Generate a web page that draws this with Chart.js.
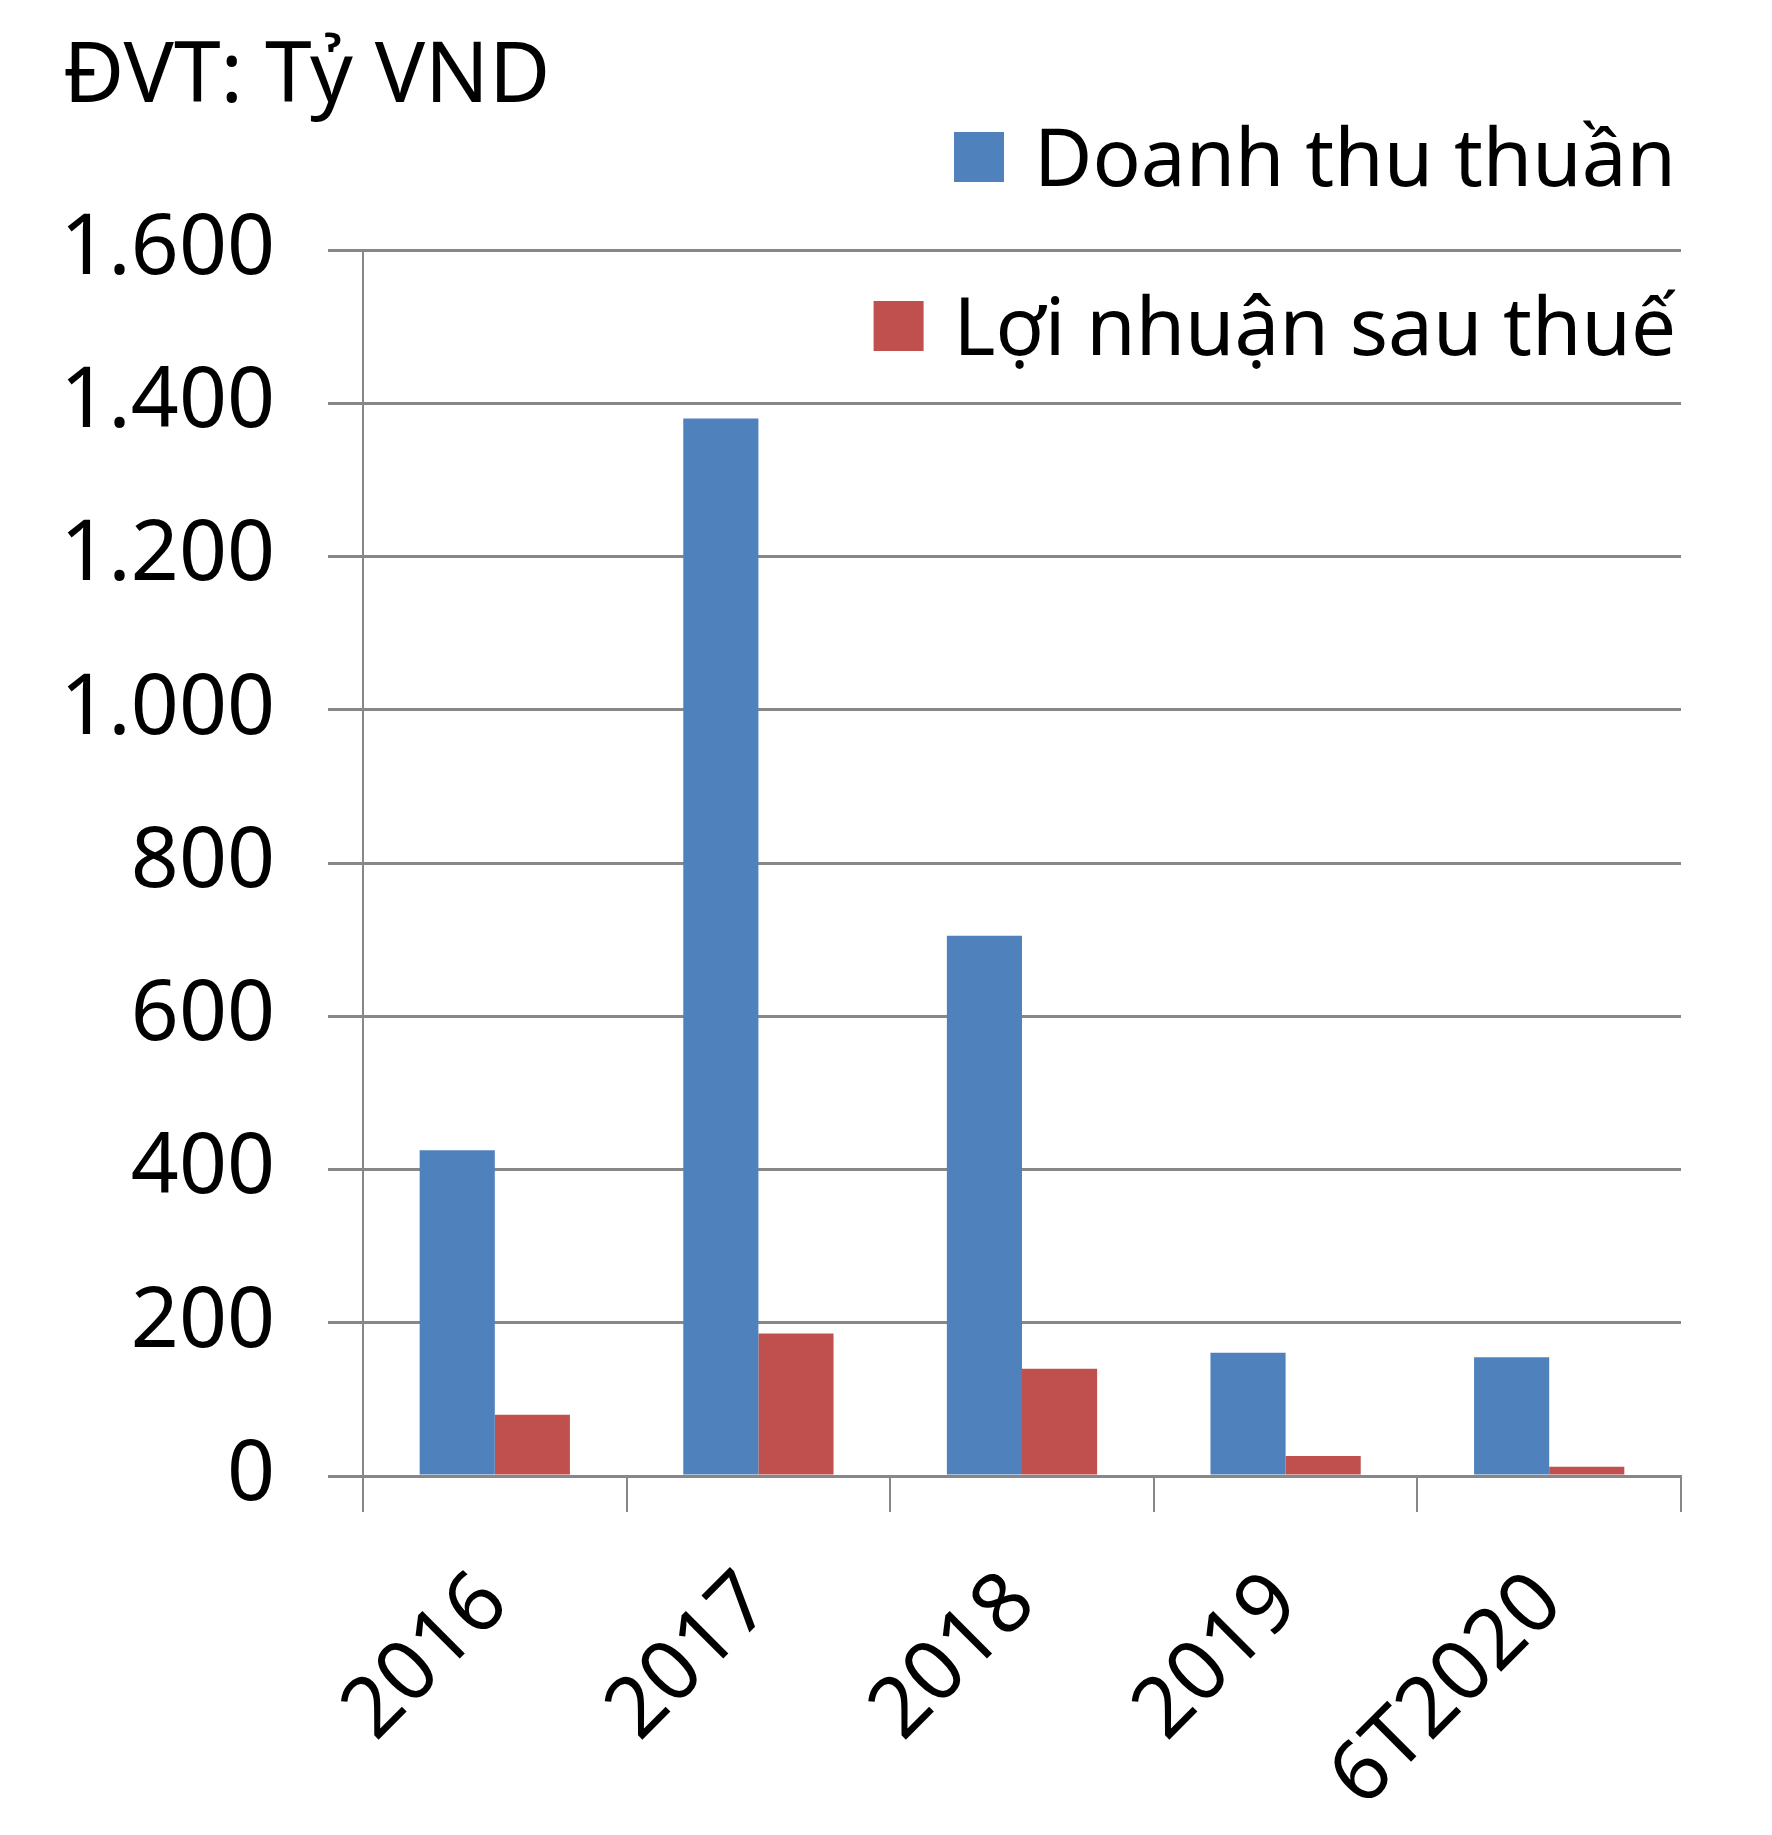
<!DOCTYPE html>
<html lang="vi">
<head>
<meta charset="utf-8">
<title>Doanh thu thuần và Lợi nhuận sau thuế</title>
<script src="https://cdn.jsdelivr.net/npm/chart.js@4.4.1/dist/chart.umd.min.js"></script>
<style>
  html, body { margin: 0; padding: 0; background: #ffffff; }
  canvas { display: block; }
</style>
</head>
<body>
<canvas id="graficoDoanhThu" width="1772" height="1835"></canvas>
<script>
// dati (tỷ VND)
const categories = ["2016", "2017", "2018", "2019", "6T2020"];
const doanhThuThuan = [425, 1380, 705, 161, 155];
const loiNhuanSauThue = [80, 186, 140, 26, 12];
const seriesLabels = ["Doanh thu thuần", "Lợi nhuận sau thuế"];
const seriesColors = ["#4f81bd", "#c0504d"];
const donViTinh = "ĐVT: Tỷ VND";
const yMin = 0;
const yMax = 1600;
const yStep = 200;

const gridColor = "#878787";
const fontFamily = '"Noto Sans", "DejaVu Sans", sans-serif';

// separatore delle migliaia con il punto, come nell'originale
function formatNumber(v) {
  return String(v).replace(/\B(?=(\d{3})+(?!\d))/g, ".");
}

// titolo e legenda disegnati sopra il grafico (la legenda entra nell'area del grafico)
const overlayText = {
  id: "overlayText",
  afterDraw(chart) {
    const ctx = chart.ctx;
    ctx.save();
    ctx.fillStyle = "#000000";
    ctx.textBaseline = "alphabetic";
    ctx.font = "84px " + fontFamily;
    ctx.textAlign = "left";
    ctx.fillText(donViTinh, 63, 102);

    const baselines = [186, 355];
    const rightEdge = 1676;
    ctx.font = "80px " + fontFamily;
    chart.data.datasets.forEach((ds, i) => {
      const w = ctx.measureText(ds.label).width;
      const textX = rightEdge - w;
      ctx.fillStyle = "#000000";
      ctx.fillText(ds.label, textX, baselines[i]);
      ctx.fillStyle = ds.backgroundColor;
      ctx.fillRect(textX - 80, baselines[i] - 54, 50, 50);
    });
    ctx.restore();
  },
};

const ctx = document.getElementById("graficoDoanhThu").getContext("2d");
const chart = new Chart(ctx, {
  type: "bar",
  data: {
    labels: categories,
    datasets: [
      {
        label: seriesLabels[0],
        data: doanhThuThuan,
        backgroundColor: seriesColors[0],
        borderWidth: 0,
      },
      {
        label: seriesLabels[1],
        data: loiNhuanSauThue,
        backgroundColor: seriesColors[1],
        borderWidth: 0,
      },
    ],
  },
  options: {
    responsive: false,
    animation: false,
    devicePixelRatio: 1,
    categoryPercentage: 0.57,
    barPercentage: 1,
    layout: { padding: { top: 250, right: 91, bottom: 0, left: 0 } },
    plugins: {
      legend: { display: false },
      title: { display: false },
      tooltip: { enabled: false },
    },
    scales: {
      x: {
        offset: true,
        grid: {
          offset: true,
          drawOnChartArea: false,
          drawTicks: true,
          tickLength: 36,
          color: gridColor,
          lineWidth: 2,
        },
        border: { display: true, color: gridColor, width: 3 },
        ticks: {
          color: "#000000",
          font: { family: fontFamily, size: 84 },
          minRotation: 45,
          maxRotation: 45,
          padding: 42,
        },
        afterFit: (scale) => {
          scale.height = 359;
        },
      },
      y: {
        min: yMin,
        max: yMax,
        ticks: {
          stepSize: yStep,
          color: "#000000",
          font: { family: fontFamily, size: 84 },
          padding: 53,
          callback: (v) => formatNumber(v),
        },
        grid: {
          color: gridColor,
          lineWidth: 3,
          drawTicks: true,
          tickLength: 35,
        },
        border: { display: true, color: gridColor, width: 2 },
        afterFit: (scale) => {
          scale.width = 363;
        },
      },
    },
  },
  plugins: [overlayText],
});
</script>
</body>
</html>
